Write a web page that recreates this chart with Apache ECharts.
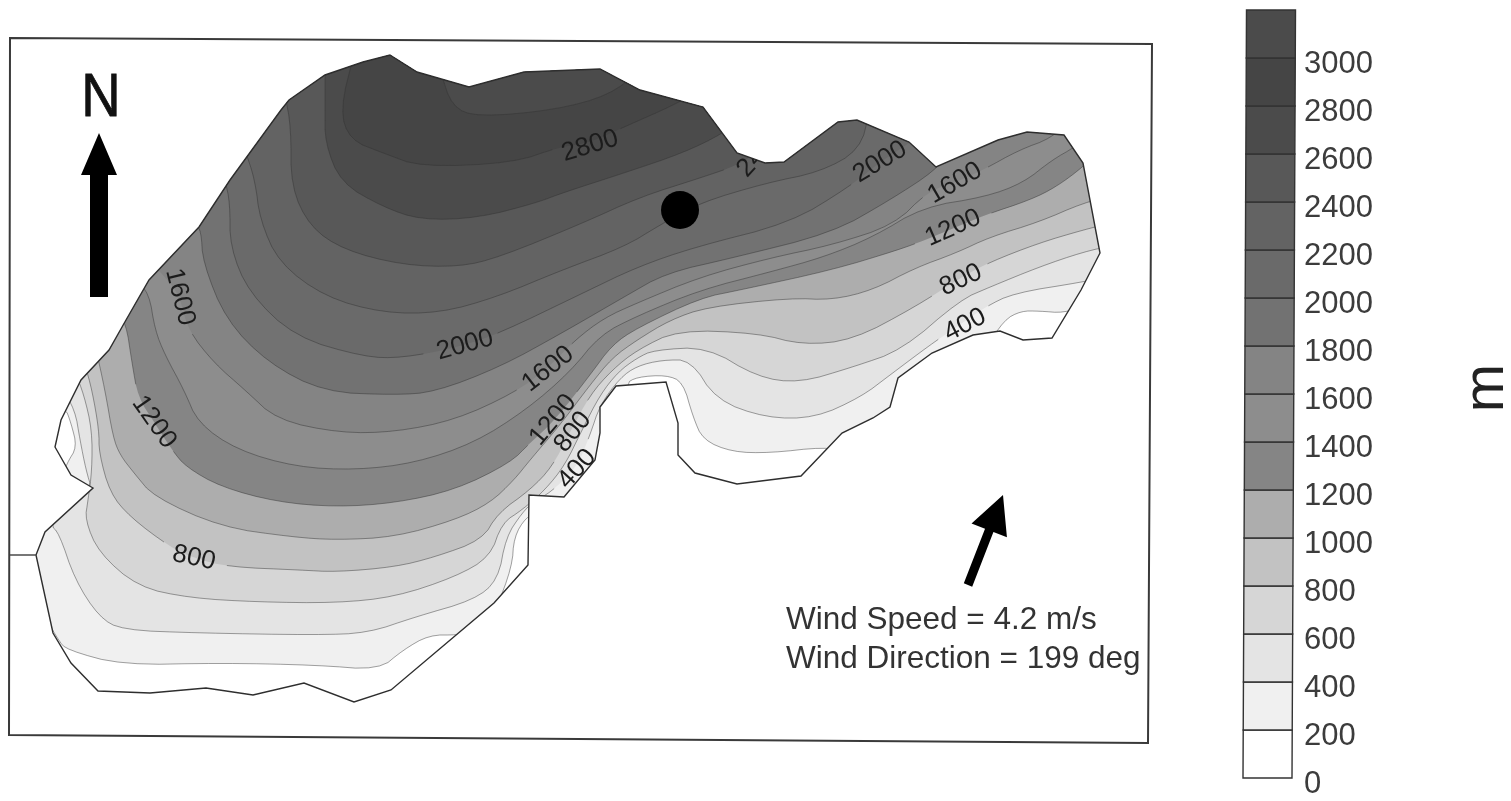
<!DOCTYPE html>
<html><head><meta charset="utf-8">
<style>html,body{margin:0;padding:0;background:#fff}#c{width:1511px;height:801px}</style>
<script src="https://cdn.jsdelivr.net/npm/echarts@6/dist/echarts.min.js"></script>
</head><body><div id="c"></div>
<script>
// Values, in the picture's own map coordinates.
const levels = [200,400,600,800,1000,1200,1400,1600,1800,2000,2200,2400,2600,2800,3000];
const legendLabels = [0,200,400,600,800,1000,1200,1400,1600,1800,2000,2200,2400,2600,2800,3000];
const bandColors = ['#ffffff','#f0f0f0','#e4e4e4','#d6d6d6','#c2c2c2','#adadad','#858585','#8d8d8d','#848484','#727272','#6a6a6a','#636363','#585858','#4b4b4b','#454545','#4b4b4b'];
const outline = [[390,55],[417,72],[469,87],[524,72],[600,69],[640,90],[703,107],[737,153],[765,163],[784,162],[838,122],[857,120],[909,142],[936,167],[998,140],[1027,132],[1064,135],[1083,163],[1100,253],[1081,290],[1052,338],[1023,340],[1000,331],[973,335],[932,353],[898,378],[890,407],[873,418],[842,433],[801,476],[737,484],[695,473],[678,455],[678,423],[666,382],[616,386],[600,407],[600,433],[595,460],[564,497],[529,495],[528,565],[494,603],[391,690],[354,702],[304,683],[253,695],[206,688],[150,693],[98,691],[71,663],[53,633],[36,555],[45,532],[93,488],[71,475],[55,447],[61,420],[81,380],[109,350],[126,320],[149,280],[199,227],[230,180],[281,110],[289,100],[325,75],[363,62]];
const contour200 = [[30,400],[65,407],[71,423],[77,447],[67,463],[60,482],[40,505],[30,590],[58,640],[67,650],[122,665],[221,663],[316,665],[379,670],[403,650],[429,635],[458,635],[472,632],[495,612],[512,567],[514,537],[526,517],[540,512],[620,480],[640,420],[625,384],[637,377],[666,375],[683,382],[693,417],[703,440],[732,452],[770,453],[824,447],[850,452],[900,430],[985,350],[1004,320],[1021,311],[1039,311],[1064,313],[1085,305],[1115,300]];
const contour400 = [[60,385],[75,410],[80,440],[86,470],[92,490],[70,505],[50,525],[59,533],[75,580],[99,617],[122,630],[198,633],[316,635],[368,633],[415,617],[474,600],[498,580],[506,537],[522,513],[535,500],[550,493],[577,467],[590,435],[600,405],[620,378],[637,366],[662,360],[691,360],[716,400],[766,418],[815,418],[861,397],[890,375],[930,345],[952,330],[985,307],[1014,293],[1083,282],[1115,275]];
const contour600 = [[75,372],[84,395],[92,430],[92,470],[88,500],[85,520],[99,553],[138,587],[190,598],[257,602],[336,603],[395,597],[455,577],[490,557],[502,523],[522,510],[545,490],[565,465],[582,430],[600,395],[618,372],[637,358],[654,350],[707,347],[757,377],[799,383],[853,367],[902,350],[960,300],[990,287],[1039,267],[1083,252],[1115,245]];
const contour800 = [[85,365],[92,390],[99,430],[99,453],[110,493],[130,517],[170,547],[194,558],[229,567],[300,570],[336,572],[395,567],[435,557],[482,540],[498,513],[530,490],[552,467],[570,432],[590,395],[612,370],[637,350],[678,330],[757,333],[803,345],[853,340],[915,307],[960,278],[990,262],[1039,243],[1083,230],[1115,222]];
const contour1000 = [[95,345],[105,390],[113,437],[120,455],[134,473],[154,497],[221,527],[292,537],[336,540],[395,537],[455,520],[490,503],[514,480],[530,460],[560,425],[590,385],[612,358],[637,340],[670,320],[707,307],[790,298],[832,300],[873,290],[915,268],[956,253],[990,237],[1039,222],[1083,203],[1115,195]];
const contour1200 = [[115,310],[126,323],[132,363],[138,397],[154,422],[172,450],[186,467],[221,487],[277,502],[336,507],[395,503],[455,490],[510,463],[530,443],[555,420],[590,375],[612,345],[637,328],[700,298],[740,290],[832,270],[898,250],[925,240],[954,228],[985,215],[1030,200],[1056,187],[1083,167],[1105,145]];
const contour1400 = [[135,280],[149,293],[155,330],[165,355],[184,390],[198,423],[237,450],[296,467],[356,470],[415,463],[474,443],[526,410],[570,372],[600,335],[637,316],[700,290],[770,272],[824,257],[873,237],[923,207],[985,197],[1023,183],[1052,160],[1075,147],[1095,130]];
const contour1600 = [[150,262],[168,280],[180,297],[188,330],[214,363],[245,390],[277,420],[340,433],[395,432],[455,420],[514,393],[548,368],[575,340],[604,318],[637,303],[700,277],[770,258],[832,245],[894,225],[927,192],[956,182],[983,170],[1019,150],[1052,138],[1075,115]];
const contour1800 = [[195,225],[201,230],[203,263],[226,320],[268,363],[324,392],[395,395],[435,392],[500,367],[562,333],[624,297],[666,273],[732,258],[832,233],[890,200],[936,170],[950,150]];
const contour2000 = [[225,180],[230,203],[230,247],[249,293],[295,337],[364,357],[402,358],[459,347],[500,333],[583,293],[637,267],[695,247],[790,223],[849,187],[880,162],[909,143],[930,130]];
const contour2200 = [[245,150],[255,180],[260,220],[279,263],[325,297],[383,313],[440,313],[497,297],[562,270],[624,247],[660,225],[699,203],[766,183],[820,172],[860,150],[870,110]];
const contour2400 = [[285,95],[291,127],[291,187],[310,227],[344,250],[402,265],[459,267],[500,257],[583,223],[640,197],[700,178],[738,165],[760,150]];
const contour2600 = [[325,60],[325,107],[325,143],[341,183],[383,207],[421,220],[478,218],[536,203],[562,193],[624,173],[683,153],[724,133],[745,115]];
const contour2800 = [[355,50],[340,110],[350,140],[383,153],[421,167],[513,163],[559,147],[589,143],[624,127],[674,105],[700,90]];
const contour3000 = [[440,70],[452,107],[478,117],[555,110],[610,95],[640,70]];
const contourLines = [contour200,contour400,contour600,contour800,contour1000,contour1200,contour1400,contour1600,contour1800,contour2000,contour2200,contour2400,contour2600,contour2800,contour3000];
// text, level of the contour it sits on, x, y, tilt in degrees
const contourLabels = [['2800',2800,590,146,17],['2400',2400,761,152,48],['2000',2000,880,162,31],['1600',1600,955,183,30],['1200',1200,953,228,24],['800',800,961,280,25],['400',400,965,325,27],['2000',2000,465,345,15],['1600',1600,548,369,38],['1200',1200,553,420,50],['800',800,573,432,52],['400',400,577,469,48],['1600',1600,180,297,-76],['1200',1200,154,422,-55],['800',800,194,558,-12]];
const station = [[680,210]];
const frame = [[10,38],[1152,44],[1148,743],[9,735]];
const frameStub = [[10,555],[36,555]];
const northArrow = [[99,297],[99,133]];
const windArrow = [[968,585],[1003,495]];
const windText = [['Wind Speed = 4.2 m/s',786,618],['Wind Direction = 199 deg',786,657]];

const FONT = '"Liberation Sans",Arial,sans-serif';
function smooth(pts){
  let p = pts;
  for (let k=0;k<2;k++){
    const q=[p[0]];
    for (let i=0;i<p.length-1;i++){
      const a=p[i],b=p[i+1];
      q.push([a[0]*.75+b[0]*.25,a[1]*.75+b[1]*.25],[a[0]*.25+b[0]*.75,a[1]*.25+b[1]*.75]);
    }
    q.push(p[p.length-1]); p=q;
  }
  return p;
}
// split a contour where one of its labels interrupts it
function gaps(pts,level){
  const labs=contourLabels.filter(l=>l[1]===level);
  const out=[];let cur=[];
  pts.forEach(p=>{
    const hidden=labs.some(l=>{
      const r=l[4]*Math.PI/180,dx=p[0]-l[2],dy=p[1]-l[3];
      const u=dx*Math.cos(r)-dy*Math.sin(r),v=dx*Math.sin(r)+dy*Math.cos(r);
      return Math.abs(u)<l[0].length*7.5+4&&Math.abs(v)<15;
    });
    if(hidden){if(cur.length>1)out.push(cur);cur=[];}else cur.push(p);
  });
  if(cur.length>1)out.push(cur);
  return out;
}
const px = (api,pts)=>pts.map(p=>api.coord(p));
const clipOf = api=>({type:'polygon',shape:{points:px(api,outline)}});

const chart = echarts.init(document.getElementById('c'),null,{renderer:'canvas'});
chart.setOption({
  animation:false,
  backgroundColor:'#ffffff',
  grid:[{left:0,right:0,top:0,bottom:0,outerBoundsMode:'none'},{left:1245,width:49,top:10,height:768,outerBoundsMode:'none'}],
  xAxis:[{gridIndex:0,type:'value',min:0,max:1511,show:false},{gridIndex:1,type:'value',min:0,max:1,show:false}],
  yAxis:[{gridIndex:0,type:'value',min:0,max:801,inverse:true,show:false},
    {gridIndex:1,type:'value',min:0,max:3200,interval:200,position:'right',
     axisLine:{show:false},axisTick:{show:false},splitLine:{show:false},
     axisLabel:{show:true,margin:10,fontFamily:FONT,fontSize:31,color:'#3c3c3c',verticalAlign:'top',lineHeight:12,
       formatter:v=>legendLabels.includes(v)?String(v):''},
     name:'m',nameLocation:'middle',nameRotate:90,nameGap:164,
     nameTextStyle:{fontFamily:FONT,fontSize:58,color:'#222',padding:[0,0,0,12]}}],
  series:[
    {type:'custom',xAxisIndex:0,yAxisIndex:0,coordinateSystem:'cartesian2d',clip:false,silent:true,z:1,
     data:levels.map((l,i)=>[i]),encode:{x:0,y:0},
     renderItem(params,api){
       const i=params.dataIndex,line=contourLines[i],s=smooth(line);
       const a=s[0],b=s[s.length-1];
       const poly=s.concat([[b[0],-10],[a[0],-10]]);
       const kids=[];
       if(i===0) kids.push({type:'polygon',shape:{points:px(api,outline)},style:{fill:bandColors[0]}});
       kids.push({type:'polygon',shape:{points:px(api,poly)},style:{fill:bandColors[i+1]},clipPath:clipOf(api)});
       return {type:'group',children:kids};
     }},
    {type:'custom',xAxisIndex:0,yAxisIndex:0,coordinateSystem:'cartesian2d',clip:false,silent:true,z:2,
     data:levels.map((l,i)=>[i]),encode:{x:0,y:0},
     renderItem(params,api){
       const i=params.dataIndex;
       const segs=gaps(smooth(contourLines[i]),levels[i]);
       return {type:'group',children:segs.map(s=>({type:'polyline',shape:{points:px(api,s)},
         style:{stroke:'#333',lineWidth:0.7,fill:null,opacity:.65},clipPath:clipOf(api)}))};
     }},
    {type:'custom',xAxisIndex:0,yAxisIndex:0,coordinateSystem:'cartesian2d',clip:false,silent:true,z:3,
     data:[[0]],encode:{x:0,y:0},
     renderItem(params,api){
       const kids=[
         {type:'polygon',shape:{points:px(api,outline)},style:{fill:null,stroke:'#2e2e2e',lineWidth:1.4}},
         {type:'polygon',shape:{points:px(api,frame)},style:{fill:null,stroke:'#3a3a3a',lineWidth:2}},
         {type:'polyline',shape:{points:px(api,frameStub)},style:{fill:null,stroke:'#4a4a4a',lineWidth:1.5}}
       ];
       [[northArrow,9,18,42],[windArrow,4.5,19,38]].forEach(([ar,sw,hw,hl])=>{
         const t=api.coord(ar[0]),h=api.coord(ar[1]);
         const dx=h[0]-t[0],dy=h[1]-t[1],n=Math.hypot(dx,dy),ux=dx/n,uy=dy/n,vx=-uy,vy=ux;
         const bx=h[0]-ux*hl,by=h[1]-uy*hl;
         kids.push({type:'polygon',style:{fill:'#000'},shape:{points:[
           [t[0]+vx*sw,t[1]+vy*sw],[bx+vx*sw,by+vy*sw],[bx+vx*hw,by+vy*hw],h,
           [bx-vx*hw,by-vy*hw],[bx-vx*sw,by-vy*sw],[t[0]-vx*sw,t[1]-vy*sw]]}});
       });
       const n=api.coord([101,99]);
       kids.push({type:'text',x:n[0],y:n[1],scaleX:.88,style:{text:'N',font:'62px '+FONT,fill:'#111',stroke:'#111',lineWidth:0.8,align:'center',verticalAlign:'middle'}});
       windText.forEach(w=>{const c=api.coord([w[1],w[2]+2]);
         kids.push({type:'text',x:c[0],y:c[1],style:{text:w[0],font:'31.5px '+FONT,fill:'#333',align:'left',verticalAlign:'middle'}});});
       const labs=contourLabels.map(l=>{const c=api.coord([l[2],l[3]]);
         return {type:'text',x:c[0],y:c[1],rotation:l[4]*Math.PI/180,style:{text:l[0],font:'26px '+FONT,fill:'#1c1c1c',align:'center',verticalAlign:'middle'}};});
       kids.push({type:'group',children:labs,clipPath:clipOf(api)});
       return {type:'group',children:kids};
     }},
    {type:'scatter',xAxisIndex:0,yAxisIndex:0,data:station,symbol:'circle',symbolSize:38,itemStyle:{color:'#000',opacity:1},silent:true,z:4},
    {type:'custom',xAxisIndex:1,yAxisIndex:1,coordinateSystem:'cartesian2d',clip:false,silent:true,z:3,
     data:bandColors.map((c,i)=>[i]),encode:{x:0,y:0},
     renderItem(params,api){
       const i=params.dataIndex;
       const lo=i*200,hi=Math.min(3200,(i+1)*200);
       // the scanned page leans slightly: the bar's left edge drifts right with height
       const lean=v=>v/3200*3.5-2;
       const L=v=>{const c=api.coord([0,v]);return [c[0]+lean(v),c[1]];};
       const R=v=>{const c=api.coord([1,v]);return [c[0]+lean(v),c[1]];};
       return {type:'polygon',shape:{points:[L(lo),R(lo),R(hi),L(hi)]},
         style:{fill:bandColors[i],stroke:'#333',lineWidth:1.4}};
     }}
  ]
});
</script></body></html>
